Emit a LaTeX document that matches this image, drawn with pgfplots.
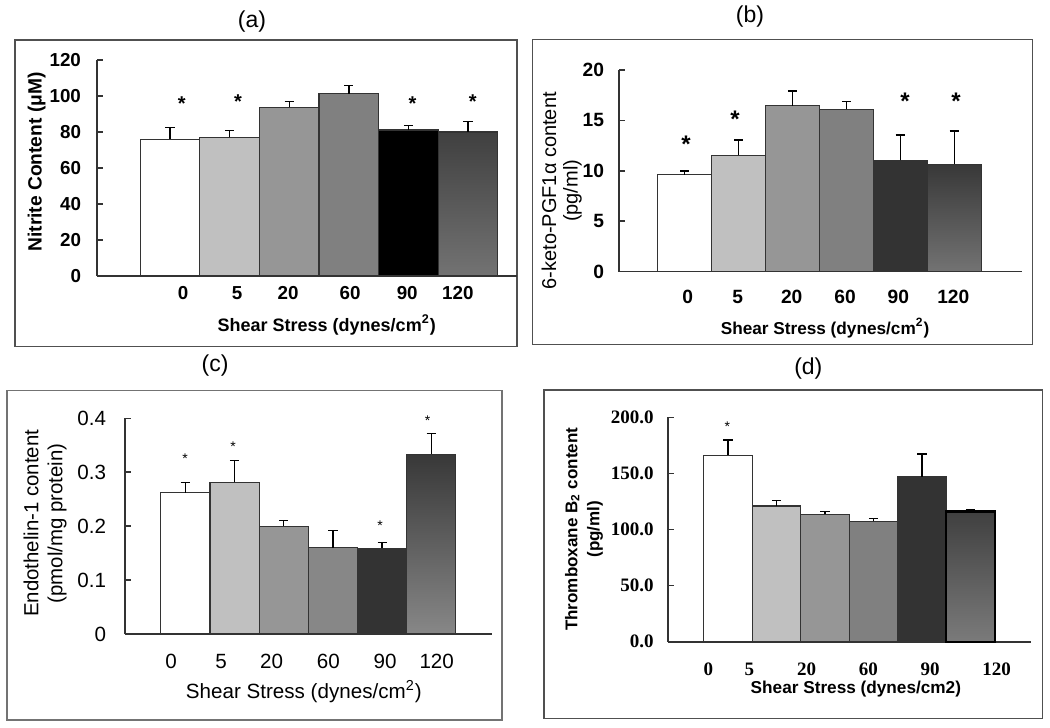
\documentclass[border=0pt]{standalone}
\usepackage{fontspec}
\setmainfont{Liberation Sans}
\newfontfamily\serifbf{Liberation Serif}
\usepackage{pgfplots}
\pgfplotsset{compat=1.18}

\definecolor{c1}{HTML}{C0C0C0}
\definecolor{c2}{HTML}{969696}
\definecolor{c3}{HTML}{808080}
\definecolor{c4}{HTML}{333333}
\definecolor{edge}{HTML}{333333}
\definecolor{framec}{HTML}{505050}

\pgfplotsset{
 panel/.style={
  scale only axis, anchor=south west,
  axis lines=left, axis line style={-, draw=edge, line width=0.8bp},
  clip=false,
  xtick style={draw=none},
  ytick style={draw=edge, line width=0.8bp},
  tick align=inside, major tick length=3bp,
  ymin=0,
  xticklabel style={anchor=center},
 },
 bar/.style={ybar, bar width=1, bar shift=0pt, draw=edge, line width=0.6bp,
   error bars/y dir=plus, error bars/y explicit,
   error bars/error bar style={black, line width=0.7bp},
   error bars/error mark options={black, line width=0.7bp, mark size=2.3bp, rotate=90}},
}

\begin{document}
\begin{tikzpicture}
\path[use as bounding box] (0,0) rectangle (525bp,364bp);

% frames
\draw[framec, line width=0.75bp] (7.5bp,190.75bp) rectangle (258.5bp,344bp);
\draw[framec, line width=0.75bp] (266.35bp,191.75bp) rectangle (516.15bp,344.25bp);
\draw[framec!80, line width=0.9bp] (3.35bp,4bp) rectangle (250.85bp,168.75bp);
\draw[framec, line width=0.75bp] (272bp,4.85bp) rectangle (521.15bp,169bp);

% titles
\node[font=\fontsize{11.5bp}{13bp}\selectfont] at (126bp,353bp) {(a)};
\node[font=\fontsize{11.5bp}{13bp}\selectfont] at (375bp,355.5bp) {(b)};
\node[font=\fontsize{11.5bp}{13bp}\selectfont] at (107.5bp,181bp) {(c)};
\node[font=\fontsize{11.5bp}{13bp}\selectfont] at (404.15bp,179.5bp) {(d)};

% ---------------- (a)
\begin{axis}[panel, at={(48.5bp,226bp)}, width=210bp, height=108bp,
  xmin=-1.225, xmax=5.822, ymax=120,
  ytick={0,20,40,60,80,100,120},
  yticklabels={0,20,40,60,80,100,120},
  xtick={0.218,1.124,1.98,3.02,3.98,4.83},
  xticklabels={0,5,20,60,90,120},
  xticklabel style={yshift=-8.5bp},
  yticklabel style={xshift=-4.5bp},
  ticklabel style={font=\bfseries\fontsize{9.4bp}{10bp}\selectfont},
  every axis x label/.style={at={(axis description cs:0.547,-0.227)}, anchor=center, font=\bfseries\fontsize{9bp}{10bp}\selectfont},
  every axis y label/.style={at={(axis description cs:-0.1436,0.528)}, rotate=90, anchor=center, font=\bfseries\fontsize{9.6bp}{11bp}\selectfont},
  xlabel={Shear Stress (dynes/cm\textsuperscript{2})},
  ylabel={Nitrite Content (μM)},
]
\addplot[bar, fill=white] coordinates {(0,76) +- (0,6.4)};
\addplot[bar, fill=c1] coordinates {(1,77) +- (0,3.7)};
\addplot[bar, fill=c2] coordinates {(2,93.7) +- (0,3.1)};
\addplot[bar, fill=c3] coordinates {(3,101.3) +- (0,4.4)};
\addplot[bar, fill=black] coordinates {(4,81.1) +- (0,2.6)};
\addplot[bar, top color=black!75, bottom color=black!55] coordinates {(5,80) +- (0,5.7)};
\addplot[only marks, mark=text, text mark={\bfseries\fontsize{10bp}{12bp}\selectfont *}]
  coordinates {(0.196,95.6) (1.141,96.8) (4.07,95.8) (5.08,96.8)};
\end{axis}

% ---------------- (b)
\begin{axis}[panel, at={(309.5bp,228.15bp)}, width=201.35bp, height=100.85bp,
  xmin=-1.219, xmax=6.252, ymax=20,
  ytick={0,5,10,15,20},
  yticklabels={0,5,10,15,20},
  xtick={0.056,0.983,1.985,2.974,3.963,4.983},
  xticklabels={0,5,20,60,90,120},
  xticklabel style={yshift=-12.5bp},
  yticklabel style={xshift=-4bp},
  ticklabel style={font=\bfseries\fontsize{9.6bp}{10bp}\selectfont},
  every axis x label/.style={at={(axis description cs:0.5116,-0.2806)}, anchor=center, font=\bfseries\fontsize{8.6bp}{10bp}\selectfont},
  every axis y label/.style={at={(axis description cs:-0.1423,0.401)}, rotate=90, anchor=center, align=center, font=\fontsize{10bp}{10.8bp}\selectfont},
  xlabel={Shear Stress (dynes/cm\textsuperscript{2})},
  ylabel={6-keto-PGF1α content\\(pg/ml)},
]
\addplot[bar, fill=white] coordinates {(0,9.6) +- (0,0.4)};
\addplot[bar, fill=c1] coordinates {(1,11.55) +- (0,1.5)};
\addplot[bar, fill=c2] coordinates {(2,16.45) +- (0,1.45)};
\addplot[bar, fill=c3] coordinates {(3,16.1) +- (0,0.75)};
\addplot[bar, fill=c4] coordinates {(4,11.05) +- (0,2.5)};
\addplot[bar, top color=black!78, bottom color=black!55] coordinates {(5,10.65) +- (0,3.3)};
\addplot[only marks, mark=text, text mark={\bfseries\fontsize{12bp}{14bp}\selectfont *}]
  coordinates {(0.024,12.6) (0.933,15.1) (4.087,16.9) (5.033,16.9)};
\end{axis}

% ---------------- (c)
\begin{axis}[panel, at={(62.5bp,47bp)}, width=183.35bp, height=107.85bp,
  xmin=-1.226, xmax=6.228, ymax=0.4,
  ytick={0,0.1,0.2,0.3,0.4},
  yticklabels={0,0.1,0.2,0.3,0.4},
  xtick={-0.291,0.726,1.756,2.907,4.059,5.110},
  xticklabels={0,5,20,60,90,120},
  xticklabel style={yshift=-13.85bp},
  yticklabel style={xshift=-6bp},
  ticklabel style={font=\fontsize{10.3bp}{11bp}\selectfont},
  every axis x label/.style={at={(axis description cs:0.4876,-0.2675)}, anchor=center, font=\fontsize{10.3bp}{12bp}\selectfont},
  every axis y label/.style={at={(axis description cs:-0.218,0.513)}, rotate=90, anchor=center, align=center, font=\fontsize{10.2bp}{12bp}\selectfont},
  xlabel={Shear Stress (dynes/cm\textsuperscript{2})},
  ylabel={Endothelin-1 content\\(pmol/mg protein)},
]
\addplot[bar, fill=white] coordinates {(0,0.262) +- (0,0.019)};
\addplot[bar, fill=c1] coordinates {(1,0.281) +- (0,0.041)};
\addplot[bar, fill=c2] coordinates {(2,0.2) +- (0,0.011)};
\addplot[bar, fill=black!47] coordinates {(3,0.16) +- (0,0.032)};
\addplot[bar, fill=c4] coordinates {(4,0.159) +- (0,0.011)};
\addplot[bar, top color=black!78, bottom color=black!47] coordinates {(5,0.333) +- (0,0.039)};
\addplot[only marks, mark=text, text mark={\fontsize{7bp}{8bp}\selectfont *}]
  coordinates {(-0.006,0.325) (0.97,0.347) (3.957,0.201) (4.927,0.396)};
\end{axis}

% ---------------- (d)
\begin{axis}[panel, at={(333.85bp,43.15bp)}, width=181.65bp, height=112.2bp,
  xmin=-1.243, xmax=6.247, ymax=200,
  ytick={0,50,100,150,200},
  yticklabels={0.0,50.0,100.0,150.0,200.0},
  xtick={-0.406,0.439,1.623,2.893,4.165,5.540},
  xticklabels={0,5,20,60,90,120},
  xticklabel style={yshift=-14bp},
  yticklabel style={xshift=-3.5bp},
  ticklabel style={font=\serifbf\bfseries\fontsize{9.5bp}{10bp}\selectfont},
  every axis x label/.style={at={(axis description cs:0.518,-0.212)}, anchor=center, font=\bfseries\fontsize{8.6bp}{10bp}\selectfont},
  every axis y label/.style={at={(axis description cs:-0.2304,0.501)}, rotate=90, anchor=center, align=center, font=\bfseries\fontsize{8.5bp}{11bp}\selectfont},
  xlabel={Shear Stress (dynes/cm2)},
  ylabel={Thromboxane B\textsubscript{2} content\\(pg/ml)},
]
\addplot[bar, fill=white] coordinates {(0,166) +- (0,13.7)};
\addplot[bar, fill=c1] coordinates {(1,120.9) +- (0,4.8)};
\addplot[bar, fill=c2] coordinates {(2,113.5) +- (0,2.4)};
\addplot[bar, fill=c3] coordinates {(3,107.3) +- (0,2.3)};
\addplot[bar, fill=c4] coordinates {(4,146.8) +- (0,20.5)};
\addplot[bar, draw=black, line width=1.2bp, top color=black!75, bottom color=black!52] coordinates {(5,115.9) +- (0,2.1)};
\addplot[only marks, mark=text, text mark={\fontsize{7bp}{8bp}\selectfont *}]
  coordinates {(-0.014,192)};
\end{axis}
\end{tikzpicture}
\end{document}
